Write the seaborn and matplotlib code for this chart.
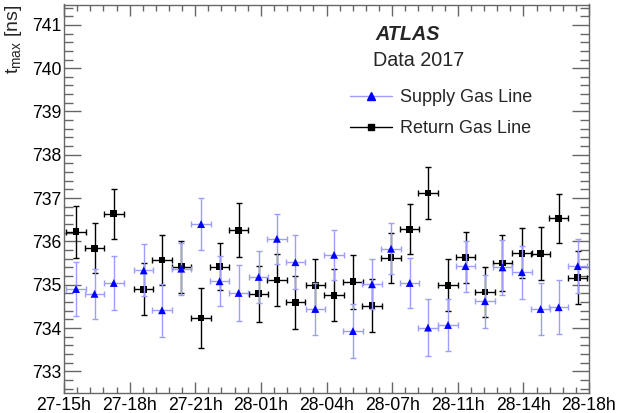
import matplotlib
matplotlib.use("Agg")
import matplotlib.pyplot as plt
import seaborn as sns
import numpy as np
import pandas as pd
from matplotlib.lines import Line2D
from matplotlib.ticker import MultipleLocator, FixedLocator

# ---- data (hours since 27th 15h) ----
hours = [0.62, 1.57, 2.56, 4.10, 5.04, 6.03, 7.05, 8.00, 8.98, 10.01, 10.95, 11.90,
         12.92, 13.89, 14.86, 15.84, 16.82, 17.78, 18.72, 19.75, 20.65, 21.65,
         22.55, 23.55, 24.51, 25.44, 26.42]
supply = [734.90, 734.79, 735.04, 735.33, 734.41, 735.37, 736.40, 735.08, 734.81,
          735.18, 736.06, 735.52, 734.44, 735.69, 733.93, 735.01, 735.83, 735.04,
          734.01, 734.07, 735.43, 734.62, 735.40, 735.29, 734.44, 734.48, 735.43]
supply_err = [0.62, 0.58, 0.62, 0.60, 0.61, 0.60, 0.60, 0.58, 0.65, 0.61, 0.58, 0.63,
              0.60, 0.58, 0.62, 0.58, 0.59, 0.57, 0.65, 0.60, 0.59, 0.61, 0.64, 0.61,
              0.61, 0.62, 0.62]
ret = [736.22, 735.84, 736.64, 734.89, 735.57, 735.42, 734.23, 735.42, 736.26,
       734.79, 735.11, 734.59, 734.99, 734.76, 735.07, 734.52, 735.62, 736.28,
       737.12, 734.99, 735.63, 734.83, 735.50, 735.73, 735.72, 736.53, 735.16]
ret_err = [0.60, 0.58, 0.58, 0.60, 0.58, 0.60, 0.69, 0.55, 0.62, 0.65, 0.61, 0.62,
           0.60, 0.60, 0.62, 0.62, 0.58, 0.58, 0.60, 0.60, 0.59, 0.58, 0.64, 0.58,
           0.62, 0.57, 0.61]
xerr_hours = 0.5
tick_labels = ['27-15h', '27-18h', '27-21h', '28-01h', '28-04h', '28-07h',
               '28-11h', '28-14h', '28-18h']
time_span = 27.0

df = pd.DataFrame({"hours": hours, "supply": supply, "supply_err": supply_err,
                   "ret": ret, "ret_err": ret_err})

sns.set_theme(style="ticks")
plt.rcParams['font.family'] = ['Liberation Sans', 'DejaVu Sans']
plt.rcParams['mathtext.fontset'] = 'custom'
plt.rcParams['mathtext.rm'] = 'Liberation Sans'
plt.rcParams['mathtext.it'] = 'Liberation Sans:italic'

fig = plt.figure(figsize=(6.18, 4.13), dpi=100)
ax = fig.add_axes([64/618, 1-393/413, (589-64)/618, (393-4.5)/413])

light_blue = (0.62, 0.62, 1.0)

# Return gas line (black) first
ax.errorbar(df["hours"], df["ret"], yerr=df["ret_err"], xerr=xerr_hours, fmt='none',
            ecolor='black', elinewidth=1.0, capsize=2, capthick=1.0, zorder=2)
sns.scatterplot(data=df, x="hours", y="ret", marker='s', color='black', s=24,
                edgecolor='none', ax=ax, zorder=3, legend=False)
# Supply gas line (blue)
ax.errorbar(df["hours"], df["supply"], yerr=df["supply_err"], xerr=xerr_hours, fmt='none',
            ecolor=light_blue, elinewidth=1.0, capsize=2, capthick=1.0, zorder=4)
sns.scatterplot(data=df, x="hours", y="supply", marker='^', color='#0000ff', s=32,
                edgecolor='none', ax=ax, zorder=5, legend=False)

ax.set_xlim(0, time_span)
ax.set_ylim(732.5, 741.47)
ax.set_xlabel('')
ax.set_ylabel('')

tick_pos = np.linspace(0, time_span, len(tick_labels))
ax.xaxis.set_major_locator(FixedLocator(tick_pos))
ax.set_xticklabels(tick_labels)
ax.xaxis.set_minor_locator(MultipleLocator(time_span / 40))
ax.yaxis.set_major_locator(MultipleLocator(1))
ax.yaxis.set_minor_locator(MultipleLocator(0.2))

frame_col = '#666666'
for sp in ax.spines.values():
    sp.set_visible(True)
    sp.set_color(frame_col)
    sp.set_linewidth(1.0)
ax.tick_params(which='both', direction='in', top=True, right=True, color=frame_col,
               labelcolor='black', width=1.0, labelsize=12.7)
ax.tick_params(axis='y', which='major', length=12.5, pad=2)
ax.tick_params(axis='y', which='minor', length=6.5)
ax.tick_params(axis='x', which='major', length=8, pad=3)
ax.tick_params(axis='x', which='minor', length=4.5)

fig.text(0.022, 0.988, r'$\mathrm{t}_{\mathrm{max}}$ [ns]', rotation=90,
         ha='center', va='top', fontsize=14)

fig.text(375/618, 1-35/413, 'ATLAS', fontsize=14.2, fontweight='bold',
         fontstyle='italic', ha='left', va='center')
fig.text(373/618, 1-60/413, 'Data 2017', fontsize=14.2, ha='left', va='center')

handles = [Line2D([], [], color=light_blue, lw=1.0, marker='^', markersize=6,
                  markerfacecolor='#0000ff', markeredgecolor='#0000ff'),
           Line2D([], [], color='black', lw=1.0, marker='s', markersize=5,
                  markerfacecolor='black', markeredgecolor='black')]
fig.legend(handles, ['Supply Gas Line', 'Return Gas Line'], loc='upper left',
           bbox_to_anchor=(350/618, 1-89/413), frameon=False, fontsize=13,
           handlelength=2.3, handletextpad=0.45, labelspacing=0.78,
           borderpad=0, borderaxespad=0)

fig.savefig('out.png', dpi=100)
